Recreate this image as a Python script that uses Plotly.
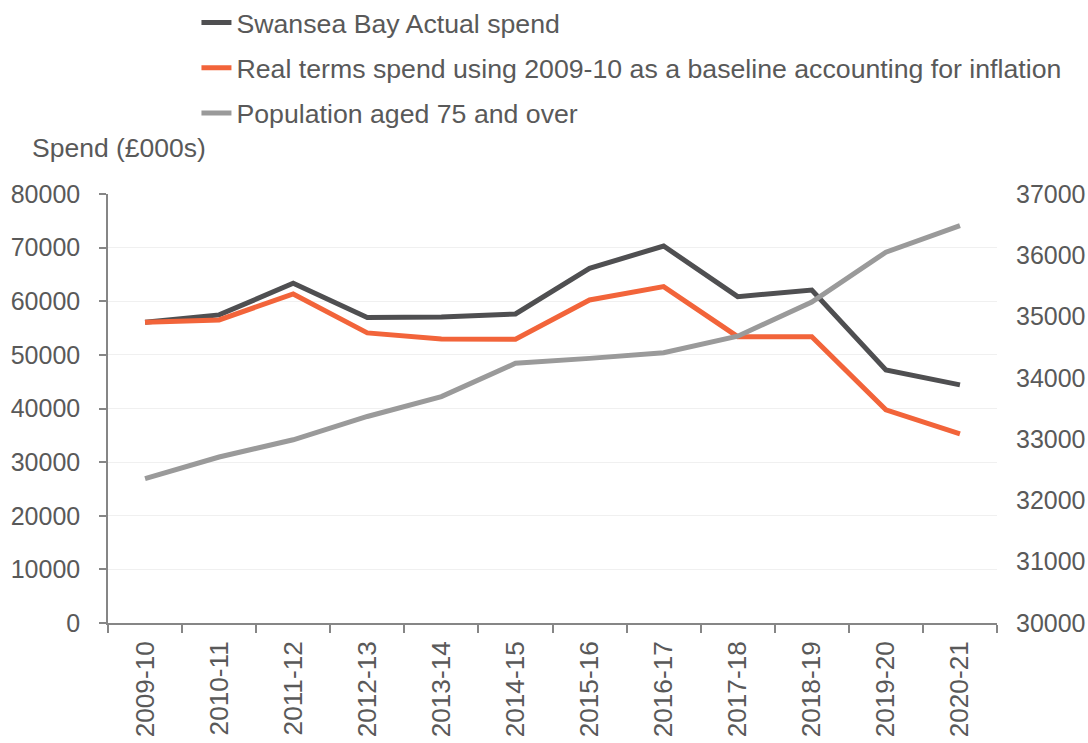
import plotly.graph_objects as go

years = ["2009-10", "2010-11", "2011-12", "2012-13", "2013-14", "2014-15",
         "2015-16", "2016-17", "2017-18", "2018-19", "2019-20", "2020-21"]
actual_spend = [56100, 57450, 63350, 56950, 57080, 57630,
                66150, 70300, 60860, 62100, 47200, 44400]
real_spend = [56100, 56520, 61360, 54100, 52980, 52920,
              60240, 62720, 53400, 53400, 39760, 35290]
population_75 = [32357, 32709, 32990, 33370, 33694, 34237,
                 34318, 34410, 34680, 35238, 36051, 36485]

FONT = "Liberation Sans, Arial, sans-serif"
TXT = "#595959"
AX = "#868686"

fig = go.Figure()
fig.add_trace(go.Scatter(x=years, y=actual_spend, name="Swansea Bay Actual spend",
                         mode="lines", line=dict(color="#4F4F51", width=5),
                         legendgroup="a", yaxis="y"))
fig.add_trace(go.Scatter(x=years, y=real_spend,
                         name="Real terms spend using 2009-10 as a baseline accounting for inflation",
                         mode="lines", line=dict(color="#F2643A", width=5),
                         legendgroup="b", yaxis="y"))
fig.add_trace(go.Scatter(x=years, y=population_75, name="Population aged 75 and over",
                         mode="lines", line=dict(color="#9A9A9A", width=5),
                         legendgroup="c", yaxis="y2"))

fig.update_layout(
    width=1088, height=743,
    margin=dict(l=107.5, r=91, t=194, b=119.5, autoexpand=False),
    plot_bgcolor="white", paper_bgcolor="white",
    font=dict(family=FONT, size=25, color=TXT),
    showlegend=True,
    legend=dict(orientation="v", xref="paper", yref="paper",
                x=0.0995, y=1.4556, xanchor="left", yanchor="top",
                font=dict(size=26.7, color=TXT, family=FONT),
                tracegroupgap=7.6, bgcolor="rgba(0,0,0,0)"),
    xaxis=dict(type="category", range=[-0.5, len(years) - 0.5], tickangle=-90,
               showline=True, linecolor=AX, linewidth=1.5,
               ticks="outside", ticklen=8, tickcolor=AX, tickwidth=1.5,
               tickson="boundaries", showgrid=False, ticklabelstandoff=6,
               tickfont=dict(size=26.2, color=TXT, family=FONT)),
    yaxis=dict(range=[0, 80000], dtick=10000, tickformat="d",
               showline=True, linecolor=AX, linewidth=1.5,
               ticks="outside", ticklen=7, tickcolor=AX, tickwidth=1.5,
               showgrid=True, gridcolor="#F0F0F0", gridwidth=1, zeroline=False,
               ticklabelstandoff=14,
               tickfont=dict(size=25, color=TXT, family=FONT)),
    yaxis2=dict(range=[30000, 37000], dtick=1000, tickformat="d",
                overlaying="y", side="right",
                showline=False, showgrid=False, zeroline=False, ticks="",
                ticklabelstandoff=18,
                tickfont=dict(size=25, color=TXT, family=FONT)),
    annotations=[dict(text="Spend (£000s)", xref="paper", yref="paper",
                      x=-0.0879, y=1.1071, xanchor="left", yanchor="middle",
                      showarrow=False, font=dict(size=26.5, color=TXT, family=FONT))],
)

fig.write_html("out.html", config={"displayModeBar": False},
               post_script="document.body.style.margin='0';document.body.style.overflow='hidden';")
